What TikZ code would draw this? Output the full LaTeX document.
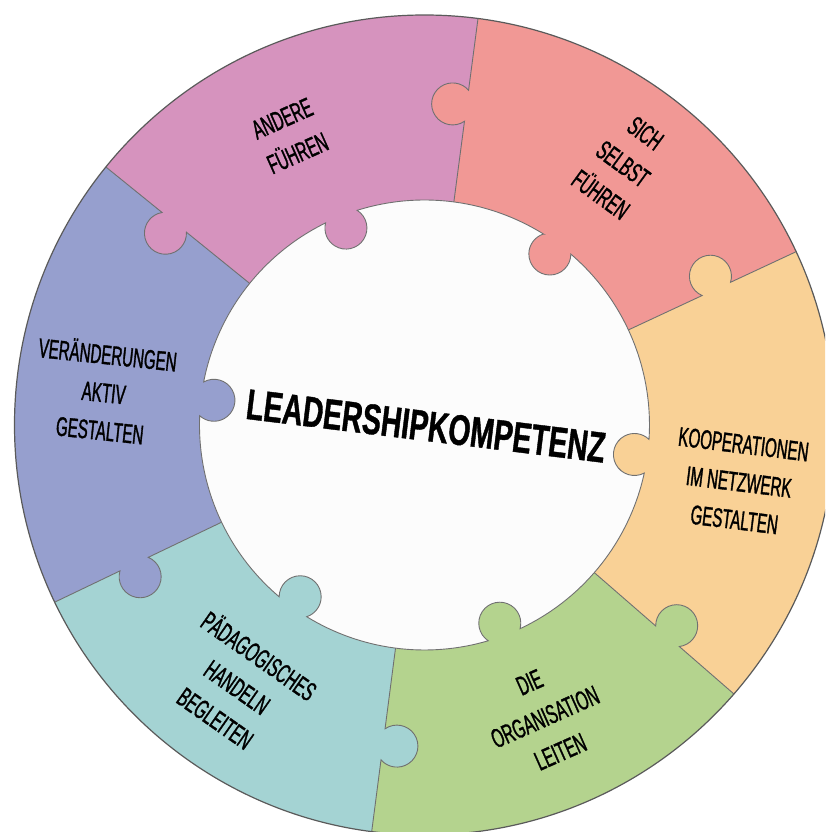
\documentclass[tikz,border=0pt]{standalone}
\usepackage{fontspec}
\newfontfamily\narf[FakeStretch=0.56,FakeBold=1.2]{Liberation Sans}
\newfontfamily\narbf[FakeStretch=0.66,FakeBold=0.9]{Liberation Sans}
\definecolor{cpink}{HTML}{D693BE}
\definecolor{csalmon}{HTML}{F19895}
\definecolor{cpeach}{HTML}{F9D196}
\definecolor{cgreen}{HTML}{B4D38E}
\definecolor{cteal}{HTML}{A4D3D3}
\definecolor{clav}{HTML}{969FCE}
\definecolor{ccenter}{HTML}{FCFCFC}
\definecolor{linegray}{HTML}{707070}
\definecolor{rimgray}{HTML}{5A5A5A}
\begin{document}
\begin{tikzpicture}[
  bout/.style={insert path={-- (#1:306.35pt) arc[start angle=#1+221.81, end angle=#1-41.81, radius=21pt] -- (#1:410pt)}},
  bin/.style={insert path={-- (#1:337.65pt) arc[start angle=#1-41.81, end angle=#1+221.81, radius=21pt] -- (0pt,0pt)}},
  ik/.style 2 args={insert path={arc[start angle=#1+4.33, end angle=#2-4.33, radius=225pt] arc[start angle=#2+306, end angle=#2+54, radius=21pt]}},
  edge/.style={draw=linegray, line width=0.9pt},
  lbl/.style={font=\narf\fontsize{27}{38}\selectfont, align=center, text=black, inner sep=0pt},
  ctr/.style={font=\narbf\bfseries\fontsize{43}{48}\selectfont, text=black, inner sep=0pt}
]
\useasboundingbox (-424.5pt,-407pt) rectangle (400.5pt,425pt);
\clip (-424.5pt,-407pt) rectangle (400.5pt,425pt);
% pieces
\fill[csalmon] (0pt,0pt) [bout=25] arc[start angle=25, end angle=82.5, radius=410pt] [bin=82.5] -- cycle;
\fill[cpink] (0pt,0pt) [bout=82.5] arc[start angle=82.5, end angle=141, radius=410pt] [bin=141] -- cycle;
\fill[clav] (0pt,0pt) [bout=141] arc[start angle=141, end angle=205.6, radius=410pt] [bin=205.6] -- cycle;
\fill[cteal] (0pt,0pt) [bout=205.6] arc[start angle=205.6, end angle=262.6, radius=410pt] [bin=262.6] -- cycle;
\fill[cgreen] (0pt,0pt) [bout=262.6] arc[start angle=262.6, end angle=319, radius=410pt] [bin=319] -- cycle;
\fill[cpeach] (0pt,0pt) [bout=319] arc[start angle=319, end angle=385, radius=410pt] [bin=385] -- cycle;
% centre with knobs
\filldraw[fill=ccenter, edge] (58.08:225pt) [ik={53.75}{111.75}] [ik={111.75}{173.3}] [ik={173.3}{234.1}] [ik={234.1}{290.8}] [ik={290.8}{352}] [ik={352}{413.75}] -- cycle;
% boundaries
\foreach \a in {25,82.5,141,205.6,262.6,319}{
  \draw[edge] (\a:225pt) [bout=\a];
}
\draw[draw=rimgray, line width=1.2pt] (0pt,0pt) circle[radius=410pt];
% labels
\node[lbl, rotate=24] (andere) at (-134.5pt,289pt) {ANDERE\\FÜHREN};
\node[lbl, rotate=-36] (sich) at (198.5pt,261pt) {SICH\\SELBST\\FÜHREN};
\node[lbl, rotate=-6] (veraend) at (-320.5pt,34pt) {VERÄNDERUNGEN\\AKTIV\\GESTALTEN};
\node[lbl, rotate=-7] (koop) at (314.5pt,-57pt) {KOOPERATIONEN\\IM NETZWERK\\GESTALTEN};
\node[lbl, rotate=-35] (paed) at (-186.5pt,-261pt) {PÄDAGOGISCHES\\HANDELN\\BEGLEITEN};
\node[lbl, rotate=24] (orga) at (120.5pt,-292pt) {DIE\\ORGANISATION\\LEITEN};
\node[ctr, rotate=-7] (lead) at (1.5pt,-1pt) {LEADERSHIPKOMPETENZ};
\end{tikzpicture}
\end{document}
